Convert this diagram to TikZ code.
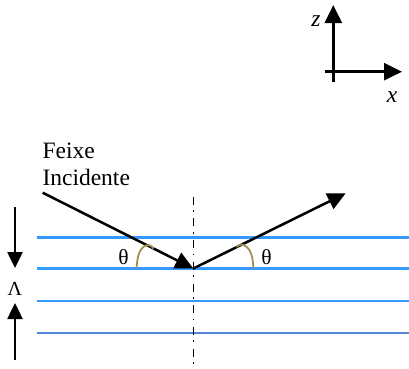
\documentclass[tikz,border=0pt]{standalone}
\usepackage{fontspec}
\setmainfont{Liberation Serif}
\usetikzlibrary{arrows.meta}
\definecolor{layerblue}{HTML}{3399FF}
\definecolor{layerblue2}{HTML}{5588DD}
\definecolor{arccol}{HTML}{A09050}
\tikzset{
  ray/.style={line width=2.5pt,-{Triangle[length=18pt,width=17pt]}},
  sray/.style={line width=2.5pt,-{Triangle[length=16pt,width=15pt]}},
  layer/.style={line width=2.6pt,layerblue},
  lbl/.style={inner sep=0pt,font=\fontsize{23.5}{26.7}\selectfont},
  anglearc/.style={line width=1.8pt,arccol}
}
\begin{document}
\begin{tikzpicture}[x=1pt,y=-1pt]
\useasboundingbox (0,0) rectangle (409,368);
% axes
\coordinate (ax0) at (333.3,81.7);
\coordinate (azt) at (333.3,5);
\coordinate (ax1) at (325,71.7);
\coordinate (axt) at (402,71.7);
\draw[ray] (ax0) -- (azt);
\draw[ray] (ax1) -- (axt);
\node[lbl,font=\fontsize{23.5}{26.7}\selectfont\itshape] (zl) at (316,21) {z};
\node[lbl,font=\fontsize{23.5}{26.7}\selectfont\itshape] (xl) at (392,97) {x};
% layers
\foreach \y/\c in {237.3/layerblue,268.5/layerblue,301/layerblue,333/layerblue2}
  \draw[layer,\c] (36.5,\y) -- (409,\y);
% normal
\coordinate (nTop) at (193.3,196.7);
\coordinate (nBot) at (193.3,368);
\draw[line width=1.5pt,dash pattern=on 8pt off 5.5pt on 1.7pt off 6.5pt] (nTop) -- (nBot);
% rays
\coordinate (O) at (193.3,268.5);
\coordinate (inS) at (42.7,192.7);
\coordinate (outE) at (345.7,193.3);
\draw[ray] (inS) -- (O);
\draw[ray] (O) -- (outE);
\node[lbl,anchor=north west,align=left] (feixe) at (42.3,142.7) {Feixe\\Incidente};
% angle arcs
\draw[anglearc] (136.7,268.5) .. controls (137,243) and (150,242) .. (153.5,248.5);
\draw[anglearc] (236.5,247) .. controls (240,242) and (253,243) .. (253.3,268.5);
\node[lbl,font=\fontsize{21.5}{25}\selectfont] (th1) at (123.5,257) {θ};
\node[lbl,font=\fontsize{21.5}{25}\selectfont] (th2) at (266.5,257) {θ};
% period arrows
\coordinate (d1) at (15,206.5);
\coordinate (d2) at (15,268);
\coordinate (u1) at (15,360);
\coordinate (u2) at (15,303);
\draw[sray] (d1) -- (d2);
\draw[sray] (u1) -- (u2);
\node[lbl,font=\fontsize{20}{24}\selectfont] (lam) at (15,289) {Λ};
\end{tikzpicture}
\end{document}
